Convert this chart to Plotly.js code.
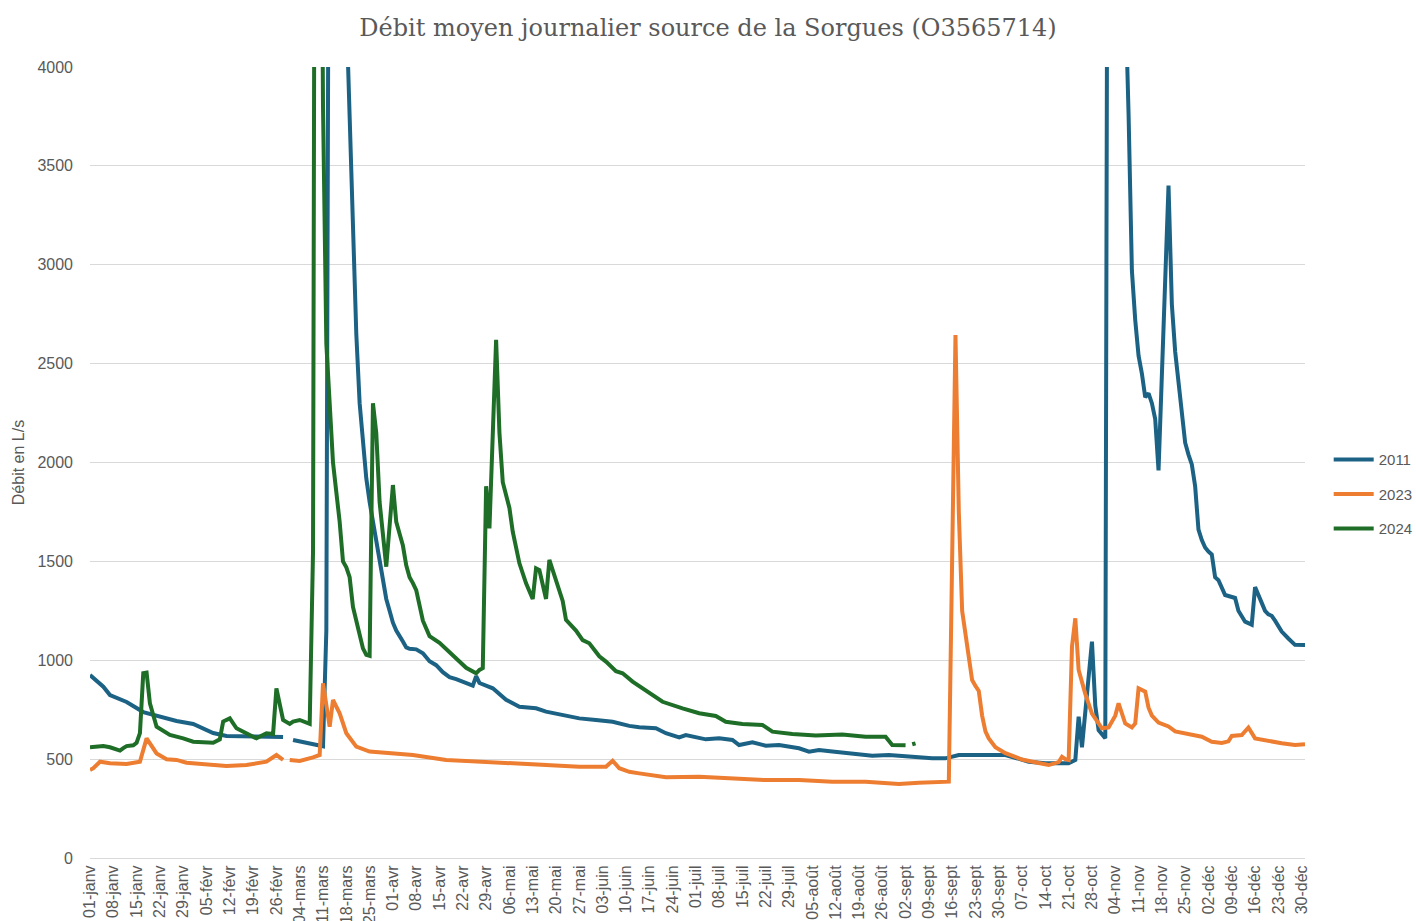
<!DOCTYPE html>
<html>
<head>
<meta charset="utf-8">
<script src="https://cdn.plot.ly/plotly-3.0.1.min.js"></script>
<style>html,body{margin:0;padding:0;background:#fff;}#chart{width:1416px;height:921px;}</style>
</head>
<body>
<div id="chart"></div>
<script>
// Day of year (0 = 1 janvier, leap-year calendar) and daily mean flow (L/s)
const days2011 = [0,4,6,11,16,21,26,31,37,41,51,58,59,61,68,70,71,72,74,76,77,78,79,80,81,82,83,84,85,86,87,88,89,90,91,92,93,94,95,96,98,100,102,104,106,108,110,112,114,115,116,117,121,125,129,134,137,142,147,152,157,162,165,170,173,177,179,185,189,193,195,199,203,207,213,216,219,223,229,235,240,245,249,253,257,261,275,282,287,294,296,297,298,301,302,303,305,306,308,310,311,312,313,314,315,316,317,318,319,320,321,324,325,326,327,328,329,330,331,332,333,334,335,336,337,338,339,341,343,344,345,346,347,349,350,352,353,354,355,356,358,360,362,365];
const flow2011 = [925,866,824,789,738,713,693,678,632,617,617,612,null,597,571,565,1150,6500,8000,5200,4300,3750,3200,2650,2300,2100,1920,1800,1700,1600,1490,1390,1310,1250,1190,1150,1125,1095,1065,1058,1055,1035,995,975,940,915,905,893,883,872,920,885,858,800,765,757,740,723,706,698,689,668,661,656,631,610,622,600,605,597,571,585,568,571,555,538,546,538,526,517,521,512,509,504,504,521,521,487,479,479,496,715,560,1094,770,647,605,7500,9000,6000,4380,3760,2970,2720,2540,2450,2330,2350,2300,2220,1960,3400,2800,2560,2400,2270,2100,2040,1990,1880,1660,1608,1570,1550,1535,1420,1405,1330,1321,1315,1250,1220,1195,1180,1370,1290,1250,1232,1225,1200,1145,1110,1078,1077];

const days2023 = [0,1,3,6,11,15,17,20,23,26,29,36,41,47,53,56,58,59,60,63,67,69,70,72,73,75,77,80,84,90,97,107,117,127,137,147,155,157,159,162,165,168,173,183,193,203,213,223,233,243,249,258,260,261,262,264,265,266,267,268,269,270,272,275,280,285,288,291,292,293,294,295,296,297,299,301,304,306,308,309,311,313,314,315,317,318,319,321,324,326,329,331,334,337,340,342,343,346,347,348,350,354,358,362,365];
const flow2023 = [445,454,487,479,475,487,605,529,499,496,482,475,465,470,487,521,496,null,496,491,509,521,883,664,799,732,631,563,538,529,521,496,487,479,470,462,462,492,454,436,428,420,408,411,403,394,394,386,386,374,381,386,2645,1750,1250,1000,900,870,845,720,640,605,560,530,498,480,470,485,512,500,496,1069,1212,951,830,730,656,660,720,782,680,660,680,858,841,760,720,685,665,640,631,622,613,588,582,590,617,622,640,660,605,590,580,571,575];

const days2024 = [0,2,4,6,8,9,10,11,13,14,15,16,17,18,20,24,28,31,37,39,40,42,44,47,50,53,55,56,58,60,61,63,66,67,68,69,70,71,72,73,74,75,76,77,78,79,80,81,82,83,84,85,86,87,88,89,91,92,93,94,95,96,97,98,100,102,105,107,110,113,116,117,118,119,120,122,123,124,126,127,129,131,133,134,135,137,138,140,142,143,146,148,150,153,155,158,160,163,168,172,178,183,188,191,196,202,205,211,218,223,226,233,239,241,245,246,247,248];
const flow2024 = [560,563,566,560,548,543,556,566,570,583,631,934,937,782,664,622,605,588,583,600,690,706,656,631,605,631,627,858,698,678,690,698,678,1550,9000,6500,3800,2600,2300,2000,1850,1700,1500,1470,1420,1270,1200,1120,1060,1027,1022,2300,2150,1800,1620,1473,1886,1700,1640,1580,1480,1420,1390,1355,1200,1122,1088,1055,1005,962,934,951,960,1880,1667,2620,2150,1900,1770,1650,1490,1389,1310,1465,1456,1310,1507,1400,1300,1204,1150,1102,1086,1020,993,945,934,892,833,790,757,732,718,689,678,673,639,627,619,619,624,613,613,571,570,null,575,580];

const tickLabels = ['01-janv','08-janv','15-janv','22-janv','29-janv','05-févr','12-févr','19-févr','26-févr','04-mars','11-mars','18-mars','25-mars','01-avr','08-avr','15-avr','22-avr','29-avr','06-mai','13-mai','20-mai','27-mai','03-juin','10-juin','17-juin','24-juin','01-juil','08-juil','15-juil','22-juil','29-juil','05-août','12-août','19-août','26-août','02-sept','09-sept','16-sept','23-sept','30-sept','07-oct','14-oct','21-oct','28-oct','04-nov','11-nov','18-nov','25-nov','02-déc','09-déc','16-déc','23-déc','30-déc'];
const tickDays = tickLabels.map((_, i) => i * 7);

const seriesNames = ['2011','2023','2024'];
const seriesColors = ['#1c6285','#ed7d31','#1e6e28'];

const allDays = [days2011, days2023, days2024];
const allFlows = [flow2011, flow2023, flow2024];

const traces = seriesNames.map((name, i) => ({
  type: 'scatter', mode: 'lines', name: name,
  x: allDays[i], y: allFlows[i],
  line: {color: seriesColors[i], width: 4, shape: 'linear'},
  connectgaps: false,
  legendgroup: name
}));

const grey = '#595959';
const layout = {
  width: 1416, height: 921,
  margin: {l: 90, r: 111, t: 67, b: 63, autoexpand: false},
  paper_bgcolor: '#ffffff', plot_bgcolor: '#ffffff',
  title: {
    text: 'Débit moyen journalier source de la Sorgues (O3565714)',
    font: {family: 'DejaVu Serif', size: 24, color: grey},
    x: 0.5, xref: 'container', y: 0.97, yref: 'container', yanchor: 'middle'
  },
  showlegend: true,
  legend: {
    x: 1.0195, xanchor: 'left', y: 0.46, yanchor: 'middle',
    font: {family: 'Liberation Sans', size: 15, color: grey},
    traceorder: 'grouped', tracegroupgap: 12, itemwidth: 40,
    bgcolor: 'rgba(0,0,0,0)'
  },
  xaxis: {
    type: 'linear', range: [0, 365], fixedrange: true,
    tickmode: 'array', tickvals: tickDays, ticktext: tickLabels,
    tickangle: -90, tickfont: {family: 'Liberation Sans', size: 16, color: grey},
    showgrid: false, zeroline: false,
    showline: true, linecolor: '#d9d9d9', linewidth: 1,
    ticks: '', automargin: false
  },
  yaxis: {
    range: [0, 4000], fixedrange: true,
    tickmode: 'array', tickvals: [0,500,1000,1500,2000,2500,3000,3500,4000],
    tickfont: {family: 'Liberation Sans', size: 16, color: grey},
    showgrid: true, gridcolor: '#d9d9d9', gridwidth: 1,
    zeroline: false, showline: false, ticks: '', ticklabelstandoff: 16,
    title: {text: 'Débit en L/s', font: {family: 'Liberation Sans', size: 16, color: grey}, standoff: 8},
    automargin: false
  }
};

Plotly.newPlot('chart', traces, layout, {displayModeBar: false, staticPlot: true});
</script>
</body>
</html>
